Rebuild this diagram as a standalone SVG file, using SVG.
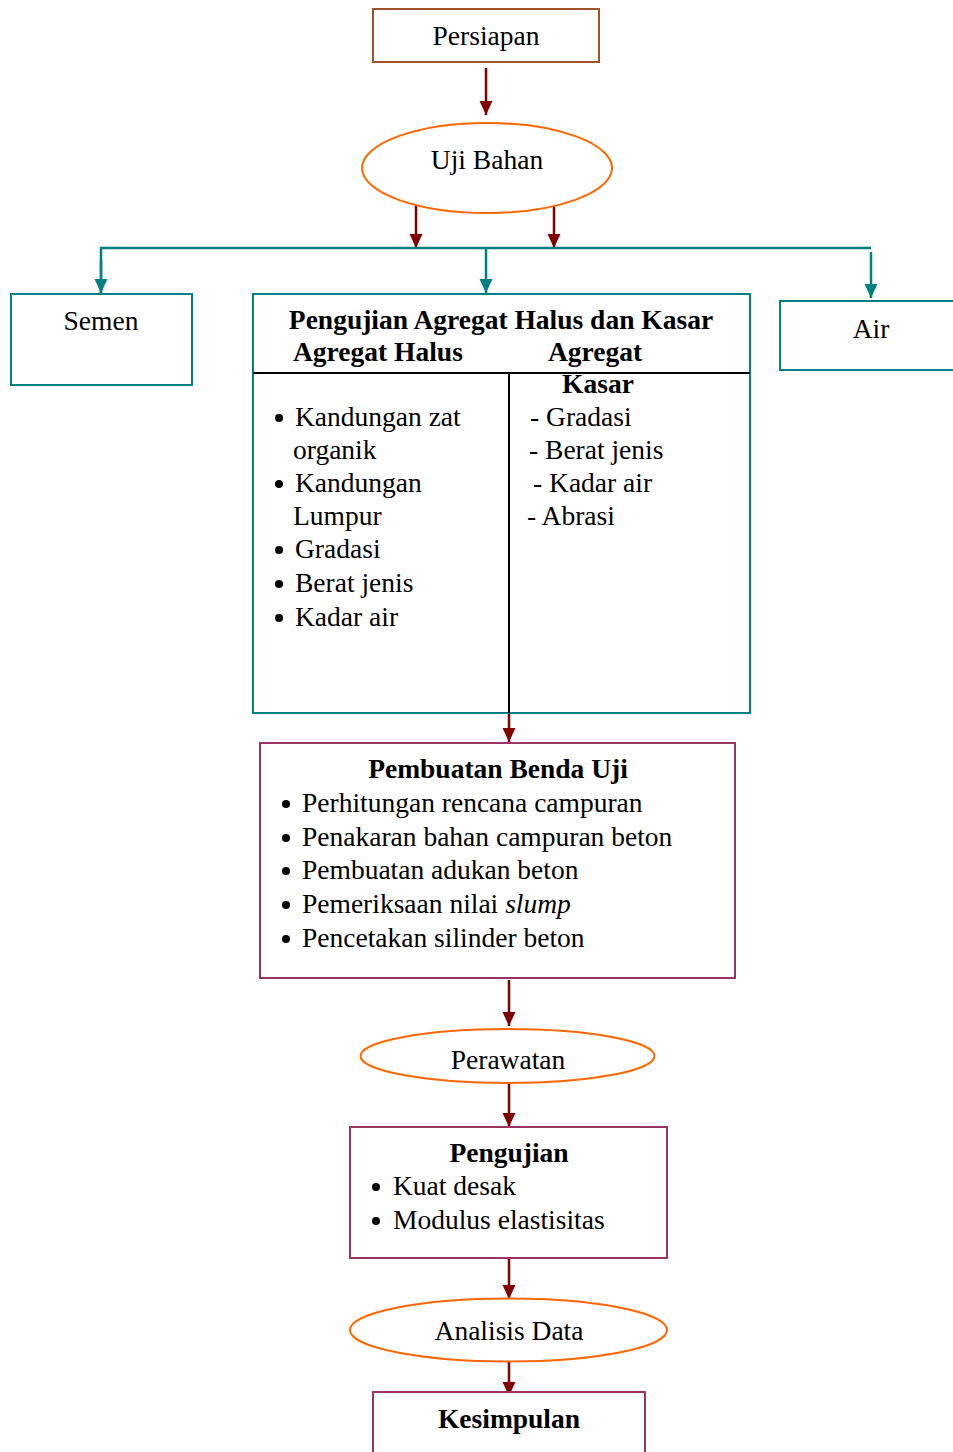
<svg xmlns="http://www.w3.org/2000/svg" width="953" height="1452" viewBox="0 0 953 1452">
<style>
text{font-family:"Liberation Serif","Times New Roman",serif;font-size:27.5px;fill:#000}
.b{font-weight:bold}
.c{text-anchor:middle}
.teal{fill:#fff;stroke:#008080;stroke-width:2}
.plum{fill:#fff;stroke:#993366;stroke-width:2}
.org{fill:#fff;stroke:#FF6600;stroke-width:2}
.red{stroke:#800000;stroke-width:2.5;fill:none}
.tl{stroke:#008080;stroke-width:2.5;fill:none}
.blk{stroke:#000;stroke-width:2;fill:none}
.dot{fill:#000}
</style>
<defs>
<marker id="ar" markerUnits="userSpaceOnUse" markerWidth="16" markerHeight="14" refX="14" refY="6.5" orient="auto"><path d="M0,0 L14,6.5 L0,13 z" fill="#800000"/></marker>
<marker id="at" markerUnits="userSpaceOnUse" markerWidth="16" markerHeight="14" refX="14" refY="6.5" orient="auto"><path d="M0,0 L14,6.5 L0,13 z" fill="#008080"/></marker>
</defs>
<rect width="953" height="1452" fill="#fff"/>

<g id="connectors">
<line class="red" x1="486" y1="68" x2="486" y2="115" marker-end="url(#ar)"/>
<line class="red" x1="416" y1="204" x2="416" y2="248" marker-end="url(#ar)"/>
<line class="red" x1="554" y1="204" x2="554" y2="248" marker-end="url(#ar)"/>
<polyline class="tl" points="101,293 101,248 871,248"/>
<line class="tl" x1="101" y1="260" x2="101" y2="293" marker-end="url(#at)"/>
<line class="tl" x1="486" y1="248" x2="486" y2="293" marker-end="url(#at)"/>
<line class="tl" x1="871" y1="252" x2="871" y2="298" marker-end="url(#at)"/>
<line class="red" x1="509" y1="714" x2="509" y2="742" marker-end="url(#ar)"/>
<line class="red" x1="509" y1="980" x2="509" y2="1026" marker-end="url(#ar)"/>
<line class="red" x1="509" y1="1084" x2="509" y2="1127" marker-end="url(#ar)"/>
<line class="red" x1="509" y1="1258" x2="509" y2="1299" marker-end="url(#ar)"/>
<line class="red" x1="509" y1="1353" x2="509" y2="1396" marker-end="url(#ar)"/>
</g>

<g id="persiapan">
<rect x="373" y="9" width="226" height="53" fill="#fff" stroke="#A0522D" stroke-width="2"/>
<text class="c" x="486" y="45">Persiapan</text>
</g>

<g id="uji-bahan">
<ellipse class="org" cx="487" cy="168" rx="125" ry="45"/>
<text class="c" x="487" y="169">Uji Bahan</text>
</g>

<g id="semen">
<rect class="teal" x="11" y="294" width="181" height="91"/>
<text class="c" x="101" y="330">Semen</text>
</g>

<g id="air">
<rect class="teal" x="780" y="301" width="180" height="69"/>
<text class="c" x="871" y="338">Air</text>
</g>

<g id="pengujian-agregat">
<rect class="teal" x="253" y="294" width="497" height="419"/>
<line class="blk" x1="253" y1="373" x2="750" y2="373"/>
<line class="blk" x1="509" y1="373" x2="509" y2="713"/>
<text class="b c" x="501" y="329">Pengujian Agregat Halus dan Kasar</text>
<text class="b" x="293" y="361">Agregat Halus</text>
<text class="b" x="548" y="361">Agregat</text>
<text class="b c" x="598" y="393">Kasar</text>
<circle class="dot" cx="279" cy="418" r="4"/>
<text x="295" y="426">Kandungan zat</text>
<text x="293" y="459">organik</text>
<circle class="dot" cx="279" cy="484" r="4"/>
<text x="295" y="492">Kandungan</text>
<text x="293" y="525">Lumpur</text>
<circle class="dot" cx="279" cy="550" r="4"/>
<text x="295" y="558">Gradasi</text>
<circle class="dot" cx="279" cy="584" r="4"/>
<text x="295" y="592">Berat jenis</text>
<circle class="dot" cx="279" cy="618" r="4"/>
<text x="295" y="626">Kadar air</text>
<text x="530" y="426">- Gradasi</text>
<text x="529" y="459">- Berat jenis</text>
<text x="533" y="492">- Kadar air</text>
<text x="527" y="525">- Abrasi</text>
</g>

<g id="pembuatan-benda-uji">
<rect class="plum" x="260" y="743" width="475" height="235"/>
<text class="b c" x="498" y="778">Pembuatan Benda Uji</text>
<circle class="dot" cx="286" cy="804" r="4"/>
<text x="302" y="812">Perhitungan rencana campuran</text>
<circle class="dot" cx="286" cy="838" r="4"/>
<text x="302" y="846">Penakaran bahan campuran beton</text>
<circle class="dot" cx="286" cy="871" r="4"/>
<text x="302" y="879">Pembuatan adukan beton</text>
<circle class="dot" cx="286" cy="905" r="4"/>
<text x="302" y="913">Pemeriksaan nilai <tspan font-style="italic">slump</tspan></text>
<circle class="dot" cx="286" cy="939" r="4"/>
<text x="302" y="947">Pencetakan silinder beton</text>
</g>

<g id="perawatan">
<ellipse class="org" cx="507.5" cy="1056" rx="147" ry="27"/>
<text class="c" x="508" y="1069">Perawatan</text>
</g>

<g id="pengujian">
<rect class="plum" x="350" y="1127" width="317" height="131"/>
<text class="b c" x="509" y="1162">Pengujian</text>
<circle class="dot" cx="376" cy="1187" r="4"/>
<text x="393" y="1195">Kuat desak</text>
<circle class="dot" cx="376" cy="1221" r="4"/>
<text x="393" y="1229">Modulus elastisitas</text>
</g>

<g id="analisis-data">
<ellipse class="org" cx="508.5" cy="1330" rx="158.5" ry="31.5"/>
<text class="c" x="509" y="1340">Analisis Data</text>
</g>

<g id="kesimpulan">
<rect class="plum" x="373" y="1392" width="272" height="80"/>
<text class="b c" x="509" y="1428">Kesimpulan</text>
</g>
</svg>
